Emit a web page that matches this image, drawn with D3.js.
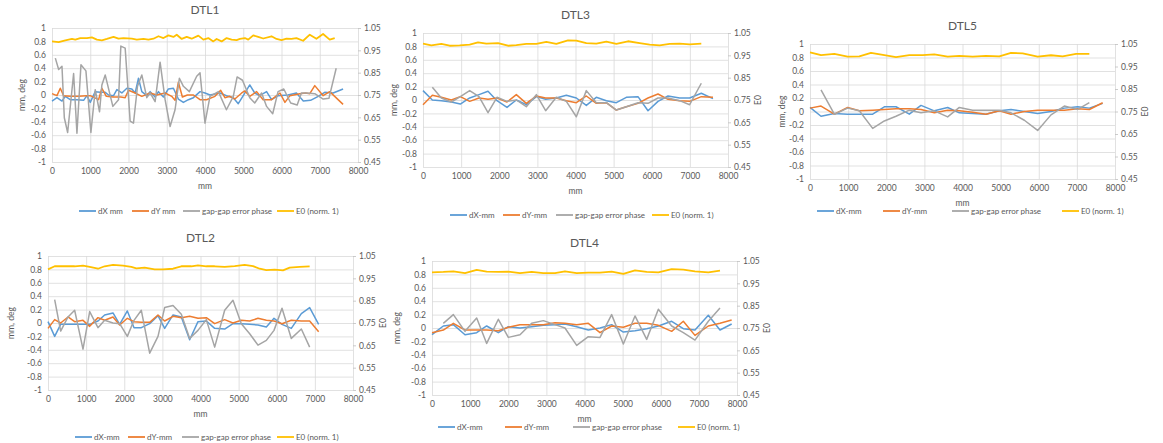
<!DOCTYPE html>
<html>
<head>
<meta charset="utf-8">
<script src="https://cdn.jsdelivr.net/npm/d3@7"></script>
<style>
  body { margin: 0; background: #fff; }
  svg text { font-family: Lato, "Liberation Sans", sans-serif; fill: #595959; }
</style>
</head>
<body>
<svg width="1163" height="443"></svg>
<script>
// values: [position mm, value]
const dtl1_dx = [[0,-0.09],[130,-0.04],[261,-0.09],[348,-0.02],[478,-0.07],[650,-0.07],[826,-0.08],[913,-0.01],[1000,-0.11],[1130,0.05],[1261,0.04],[1391,0.04],[1478,0],[1609,-0.01],[1696,0.08],[1826,0.03],[1957,0.1],[2087,0.09],[2174,0.03],[2261,0.25],[2348,0.05],[2478,-0.01],[2565,0.05],[2696,-0.03],[2783,0.05],[2913,-0.03],[3043,0.09],[3174,0.1],[3304,-0.06],[3435,-0.11],[3565,-0.07],[3696,-0.04],[3870,0.05],[4000,0.03],[4130,0],[4390,0.03],[4560,-0.01],[4740,-0.04],[4870,-0.13],[5000,-0.01],[5170,0.15],[5300,0.03],[5430,-0.01],[5610,0.05],[5740,-0.07],[5910,-0.01],[6170,0],[6390,0.03],[6570,-0.09],[6760,-0.08],[6960,-0.02],[7130,0.04],[7350,0.03],[7610,0.09]];
const dtl1_dy = [[0,0.02],[130,-0.01],[217,0.1],[304,-0.01],[478,-0.02],[700,-0.02],[900,-0.01],[1000,-0.01],[1217,-0.07],[1304,0.1],[1420,-0.02],[1600,-0.03],[1800,-0.03],[1913,-0.04],[2000,0.07],[2174,0.03],[2348,-0.02],[2565,0.03],[2739,0],[2957,0.03],[3130,-0.02],[3217,-0.08],[3304,0.19],[3409,-0.03],[3539,0],[3700,0],[3870,-0.07],[4040,-0.07],[4260,-0.02],[4410,0.07],[4520,-0.04],[4650,-0.02],[4780,-0.06],[4960,0.03],[5040,0.06],[5170,-0.02],[5350,0.05],[5520,-0.07],[5740,-0.07],[5960,0.03],[6090,-0.11],[6220,-0.01],[6480,0.02],[6630,0.03],[6740,0.02],[6870,0.14],[7090,-0.01],[7260,0.05],[7610,-0.14]];
const dtl1_gap = [[87,0.55],[174,0.38],[261,0.43],[322,-0.34],[409,-0.56],[565,0.32],[652,-0.57],[757,0.45],[887,0.36],[1017,-0.56],[1130,0.08],[1243,-0.25],[1304,0.15],[1391,0.3],[1591,-0.17],[1739,-0.07],[1800,0.73],[1913,0.7],[2043,-0.39],[2130,-0.42],[2235,0.13],[2348,0.3],[2478,-0.04],[2565,0.03],[2696,-0.1],[2826,0.49],[2957,-0.07],[3087,-0.47],[3217,-0.22],[3330,0.25],[3435,0.13],[3591,0.05],[3783,0.28],[3870,0.33],[4000,-0.42],[4130,-0.02],[4350,0.05],[4560,-0.22],[4740,-0.02],[4840,0.27],[4980,0.22],[5170,-0.04],[5300,-0.12],[5480,0.03],[5610,-0.17],[5770,-0.28],[5910,0.05],[6060,0.09],[6240,-0.12],[6410,-0.15],[6520,0.03],[6650,0.03],[6870,0.02],[7090,-0.06],[7240,-0.05],[7430,0.4]];
const dtl1_e0 = [[0,0.990],[174,0.987],[348,0.995],[522,1.001],[609,0.998],[739,1.005],[913,1.005],[1043,1.008],[1174,0.998],[1304,0.995],[1435,1.001],[1609,1.010],[1739,1.002],[1870,1.005],[2087,1.002],[2217,0.998],[2391,1.001],[2522,0.998],[2652,1.002],[2783,1.013],[2913,1.005],[3043,1.017],[3174,1.010],[3261,1.020],[3391,1.001],[3522,1.010],[3652,1.002],[3826,1.016],[3957,0.998],[4087,1.005],[4217,0.990],[4304,1.001],[4435,0.990],[4565,1.005],[4696,0.998],[4826,0.996],[4913,1.001],[5043,1.005],[5130,0.998],[5261,1.017],[5391,1.010],[5522,1.003],[5739,1.013],[5870,1.001],[6000,0.996],[6130,1.002],[6261,1.001],[6391,1.005],[6565,0.993],[6739,1.020],[6913,1.002],[7087,1.023],[7261,0.998],[7391,1.005]];

const dtl3_dx = [[0,0.14],[245,0],[481,-0.01],[743,-0.03],[979,-0.06],[1224,0.03],[1469,0.08],[1705,0.13],[1941,-0.01],[2203,-0.11],[2448,0],[2710,-0.07],[2973,0.05],[3217,0.01],[3497,0.03],[3760,0.07],[4022,0.03],[4284,-0.08],[4546,0.04],[4809,-0.01],[5071,-0.04],[5333,0.04],[5639,0.05],[5902,-0.16],[6164,-0.02],[6426,0.06],[6732,0.03],[6994,0.03],[7300,0.1],[7606,0.02]];
const dtl3_dy = [[0,-0.07],[245,0.07],[481,0.04],[743,0],[979,0.05],[1224,-0.02],[1469,0.03],[1705,0.01],[1941,0.03],[2203,-0.03],[2448,0.08],[2710,-0.05],[2973,0.06],[3217,0.03],[3497,0.03],[3760,-0.01],[4022,-0.04],[4284,0.06],[4546,-0.05],[4809,-0.04],[5071,-0.15],[5333,-0.1],[5639,-0.05],[5902,0.03],[6164,0.09],[6426,0.01],[6732,-0.01],[6994,-0.02],[7300,0.05],[7606,0.04]];
const dtl3_gap = [[245,0.19],[481,0.03],[743,-0.03],[979,0.05],[1224,0.14],[1469,0.05],[1705,-0.19],[1941,0.04],[2203,-0.02],[2448,0],[2710,-0.1],[2973,0.08],[3217,-0.16],[3497,0.04],[3760,-0.02],[4022,-0.25],[4284,0.14],[4546,-0.04],[4809,-0.04],[5071,-0.15],[5333,-0.1],[5639,-0.04],[5902,-0.05],[6164,0.03],[6426,0.03],[6732,-0.01],[6994,-0.07],[7300,0.25]];
const dtl3_e0 = [[0,1.002],[219,0.995],[481,1.001],[699,0.993],[962,0.995],[1224,0.998],[1443,1.008],[1661,1.002],[1967,1.005],[2230,0.993],[2448,0.996],[2710,1.001],[2973,1.001],[3235,1.010],[3497,1.001],[3803,1.017],[4022,1.016],[4284,1.005],[4546,1.002],[4809,1.011],[5071,1.001],[5377,1.013],[5683,1.005],[5945,0.998],[6208,0.995],[6470,1.001],[6732,1.002],[6994,0.999],[7300,1.002]];

const dtl5_dx = [[0,0.06],[289,-0.07],[638,-0.03],[988,-0.04],[1294,-0.04],[1644,-0.04],[1950,0.07],[2256,0.07],[2605,-0.04],[2911,0.09],[3261,0.01],[3611,0.06],[3917,-0.02],[4267,-0.03],[4616,-0.04],[4966,0.01],[5272,0.03],[5622,0],[5971,-0.03],[6321,0],[6671,0.05],[7021,0.07],[7327,0.05],[7676,0.12]];
const dtl5_dy = [[0,0.05],[289,0.08],[638,-0.04],[988,0.06],[1294,0.01],[1644,0.02],[1950,0.03],[2256,0.04],[2605,0.04],[2911,0.03],[3261,-0.02],[3611,0.02],[3917,0.01],[4267,-0.01],[4616,-0.04],[4966,0.01],[5272,-0.04],[5622,0],[5971,0.02],[6321,0.02],[6671,0.02],[7021,0.04],[7327,0.03],[7676,0.13]];
const dtl5_gap = [[289,0.32],[638,-0.04],[988,0.05],[1294,0.01],[1644,-0.25],[1950,-0.14],[2256,-0.07],[2605,0.02],[2911,-0.02],[3261,0.01],[3611,-0.08],[3917,0.06],[4267,0.02],[4616,0.02],[4966,0.02],[5272,-0.02],[5622,-0.13],[5971,-0.28],[6321,-0.05],[6671,0.08],[7021,0.03],[7327,0.13]];
const dtl5_e0 = [[0,1.013],[289,1.001],[638,1.006],[988,0.994],[1294,0.995],[1600,1.011],[1950,1.001],[2256,0.992],[2605,1.001],[2955,1.001],[3261,1.004],[3611,0.994],[3917,0.997],[4267,0.994],[4616,0.997],[4966,0.995],[5272,1.011],[5578,1.008],[5971,0.994],[6321,1.0],[6627,0.995],[6977,1.006],[7327,1.006]];

const dtl2_dx = [[0,0.02],[175,-0.2],[332,-0.02],[525,-0.02],[699,-0.02],[918,-0.02],[1093,-0.02],[1311,0.03],[1486,0.12],[1705,0.15],[1880,-0.02],[2081,0.18],[2256,-0.07],[2448,-0.07],[2667,-0.01],[2885,0.11],[3060,-0.08],[3279,0.12],[3497,0.09],[3716,-0.25],[3934,0.02],[4153,0.03],[4372,-0.08],[4634,-0.09],[4852,-0.01],[5071,-0.01],[5290,-0.02],[5508,-0.03],[5727,-0.06],[5928,0.07],[6138,-0.02],[6382,-0.08],[6645,0.14],[6863,0.23],[7099,-0.02]];
const dtl2_dy = [[0,-0.08],[175,0.05],[332,0],[525,0.09],[699,0.02],[918,0.04],[1093,-0.05],[1311,0.08],[1486,0.04],[1705,0.09],[1880,-0.03],[2081,0.07],[2256,0.02],[2448,0.01],[2667,0.01],[2885,0.12],[3060,0.03],[3279,0.1],[3497,0.08],[3716,0.1],[3934,0.07],[4153,0.08],[4372,-0.01],[4634,0.05],[4852,0],[5071,0.04],[5290,0.03],[5508,0.07],[5727,0.04],[5928,0.03],[6138,-0.01],[6382,0.04],[6645,0.03],[6863,0.03],[7099,-0.13]];
const dtl2_gap = [[175,0.35],[332,-0.12],[525,0.09],[699,0.19],[918,-0.39],[1093,0.17],[1311,-0.07],[1486,0.04],[1705,0],[1880,-0.01],[2081,-0.2],[2256,0.04],[2448,0.19],[2667,-0.45],[2885,-0.2],[3060,0.23],[3279,0.26],[3497,0.13],[3716,-0.23],[3934,-0.11],[4153,0.05],[4372,-0.36],[4634,0.19],[4852,0.34],[5071,-0.01],[5290,-0.16],[5508,-0.33],[5727,-0.26],[5928,-0.11],[6138,0.22],[6382,-0.23],[6645,-0.09],[6863,-0.36]];
const dtl2_e0 = [[0,0.990],[175,1.004],[437,1.004],[699,1.004],[918,1.007],[1093,1.001],[1311,0.993],[1486,1.004],[1705,1.010],[1967,1.007],[2186,1.001],[2317,0.995],[2535,0.998],[2798,0.990],[3016,0.990],[3279,0.993],[3497,1.004],[3760,1.004],[3934,1.008],[4153,1.004],[4372,1.004],[4634,1.001],[4896,1.005],[5158,1.010],[5377,1.005],[5552,0.993],[5727,0.987],[5945,0.989],[6164,0.986],[6339,0.998],[6601,1.001],[6863,1.004]];

const dtl4_dx = [[0,-0.1],[297,0.03],[560,0.05],[866,-0.1],[1172,-0.07],[1434,0.03],[1740,-0.07],[2002,0.02],[2308,0],[2614,0.02],[2920,0.04],[3226,0.05],[3488,0.06],[3795,0.02],[4100,-0.03],[4407,0],[4712,0.05],[5019,-0.06],[5325,-0.04],[5631,-0.01],[5937,0.03],[6286,0.1],[6592,-0.01],[6898,-0.03],[7248,0.19],[7554,-0.03],[7860,0.06]];
const dtl4_dy = [[0,-0.07],[297,-0.03],[560,0.07],[866,-0.03],[1172,-0.03],[1434,-0.03],[1740,-0.04],[2002,0.01],[2308,0.05],[2614,0.05],[2920,0.05],[3226,0.08],[3488,0.07],[3795,0.05],[4100,0.07],[4407,-0.07],[4712,0.03],[5019,0.01],[5325,0.07],[5631,0.07],[5937,0.04],[6286,-0.05],[6592,0.1],[6898,-0.11],[7248,0.03],[7554,0.07],[7860,0.12]];
const dtl4_gap = [[297,0.07],[560,0.2],[866,-0.05],[1172,0.15],[1434,-0.23],[1740,0.13],[2002,-0.14],[2308,-0.1],[2614,0.07],[2920,0.11],[3226,0.05],[3488,0],[3795,-0.26],[4100,-0.13],[4407,-0.14],[4712,0.2],[5019,-0.24],[5325,0.18],[5631,-0.17],[5937,0.28],[6286,0.03],[6592,-0.07],[6898,-0.18],[7248,0.1],[7554,0.3]];
const dtl4_e0 = [[0,0.999],[297,1.001],[560,1.004],[866,0.996],[1172,1.010],[1434,1.002],[1740,1.001],[2002,1.002],[2308,0.996],[2614,1.001],[2920,0.996],[3226,0.996],[3488,1.004],[3795,0.996],[4100,0.998],[4407,0.998],[4712,1.002],[5019,0.992],[5325,1.008],[5631,1.001],[5937,0.999],[6286,1.014],[6592,1.011],[6898,1.004],[7248,0.999],[7554,1.007]];

const leftTicks = [1, 0.8, 0.6, 0.4, 0.2, 0, -0.2, -0.4, -0.6, -0.8, -1];
const rightTicks = [1.05, 0.95, 0.85, 0.75, 0.65, 0.55, 0.45];
const xTicks = [0, 1000, 2000, 3000, 4000, 5000, 6000, 7000, 8000];

const colors = { dx: "#5b9bd5", dy: "#ed7d31", gap: "#a5a5a5", e0: "#ffc000" };

// where each chart sits on the page
const charts = [
  { title: "DTL1", dx: dtl1_dx, dy: dtl1_dy, gap: dtl1_gap, e0: dtl1_e0,
    names: ["dX mm", "dY mm", "gap-gap error phase", "E0 (norm. 1)"],
    x: 52, y: 28, w: 306, h: 134, yLabX: -27, e0Label: false,
    legendY: 211, legendX: [79, 132, 183, 277] },
  { title: "DTL3", dx: dtl3_dx, dy: dtl3_dy, gap: dtl3_gap, e0: dtl3_e0,
    names: ["dX-mm", "dY-mm", "gap-gap error phase", "E0 (norm. 1)"],
    x: 423, y: 33, w: 305, h: 134, yLabX: -26, e0Label: true,
    legendY: 215, legendX: [450, 503, 556, 652] },
  { title: "DTL5", dx: dtl5_dx, dy: dtl5_dy, gap: dtl5_gap, e0: dtl5_e0,
    names: ["dX-mm", "dY-mm", "gap-gap error phase", "E0 (norm. 1)"],
    x: 810, y: 44, w: 305, h: 135, yLabX: -25, e0Label: true,
    legendY: 211, legendX: [817, 883, 952, 1062] },
  { title: "DTL2", dx: dtl2_dx, dy: dtl2_dy, gap: dtl2_gap, e0: dtl2_e0,
    names: ["dX-mm", "dY-mm", "gap-gap error phase", "E0 (norm. 1)"],
    x: 48, y: 256, w: 305, h: 134, yLabX: -34, e0Label: true,
    legendY: 437, legendX: [75, 128, 182, 277] },
  { title: "DTL4", dx: dtl4_dx, dy: dtl4_dy, gap: dtl4_gap, e0: dtl4_e0,
    names: ["dX-mm", "dY-mm", "gap-gap error phase", "E0 (norm. 1)"],
    x: 432, y: 261, w: 305, h: 134, yLabX: -32, e0Label: true,
    legendY: 427, legendX: [438, 505, 573, 678] }
];

const svg = d3.select("svg");

function drawChart(c) {
  const xScale = d3.scaleLinear().domain([0, 8000]).range([c.x, c.x + c.w]);
  const yLeft = d3.scaleLinear().domain([-1, 1]).range([c.y + c.h, c.y]);
  const yRight = d3.scaleLinear().domain([0.45, 1.05]).range([c.y + c.h, c.y]);

  const g = svg.append("g");

  // gridlines + labels from the axes
  const xAxis = d3.axisBottom(xScale).tickValues(xTicks).tickSize(-c.h).tickPadding(6).tickFormat(d3.format("d"));
  g.append("g").attr("transform", `translate(0, ${c.y + c.h})`).call(xAxis);

  const yAxis = d3.axisLeft(yLeft).tickValues(leftTicks).tickSize(-c.w).tickPadding(6)
    .tickFormat(d => String(Math.round(d * 10) / 10));
  g.append("g").attr("transform", `translate(${c.x}, 0)`).call(yAxis);

  const rAxis = d3.axisRight(yRight).tickValues(rightTicks).tickSize(3).tickPadding(3)
    .tickFormat(d3.format(".2f"));
  g.append("g").attr("class", "raxis").attr("transform", `translate(${c.x + c.w}, 0)`).call(rAxis);

  g.selectAll(".domain").remove();
  g.selectAll(".tick line").attr("stroke", "#d9d9d9").attr("stroke-width", 0.8);
  g.selectAll(".raxis .tick line").attr("stroke", "#bfbfbf");
  g.selectAll(".tick text").style("font-size", "8.5px").attr("fill", "#595959");

  const line = d3.line().x(d => xScale(d[0])).y(d => yLeft(d[1]));
  const lineR = d3.line().x(d => xScale(d[0])).y(d => yRight(d[1]));

  g.append("path").datum(c.dx).attr("d", line)
    .attr("fill", "none").attr("stroke", colors.dx).attr("stroke-width", 1.5).attr("stroke-linejoin", "round");
  g.append("path").datum(c.dy).attr("d", line)
    .attr("fill", "none").attr("stroke", colors.dy).attr("stroke-width", 1.5).attr("stroke-linejoin", "round");
  g.append("path").datum(c.gap).attr("d", line)
    .attr("fill", "none").attr("stroke", colors.gap).attr("stroke-width", 1.5).attr("stroke-linejoin", "round");
  g.append("path").datum(c.e0).attr("d", lineR)
    .attr("fill", "none").attr("stroke", colors.e0).attr("stroke-width", 1.8).attr("stroke-linejoin", "round");

  // titles
  g.append("text")
    .attr("x", c.x + c.w / 2).attr("y", c.y - 14)
    .attr("text-anchor", "middle").style("font-size", "12px")
    .text(c.title);

  g.append("text")
    .attr("x", c.x + c.w / 2).attr("y", c.y + c.h + 27)
    .attr("text-anchor", "middle").style("font-size", "8.5px")
    .text("mm");

  g.append("text")
    .attr("transform", `translate(${c.x + c.yLabX}, ${c.y + c.h / 2}) rotate(-90)`)
    .attr("text-anchor", "middle").style("font-size", "8.5px")
    .text("mm, deg");

  if (c.e0Label) {
    g.append("text")
      .attr("transform", `translate(${c.x + c.w + 33}, ${c.y + c.h / 2}) rotate(-90)`)
      .attr("text-anchor", "middle").style("font-size", "8.5px")
      .text("E0");
  }

  // legend
  const keys = ["dx", "dy", "gap", "e0"];
  keys.forEach((k, i) => {
    const lx = c.legendX[i];
    g.append("line")
      .attr("x1", lx).attr("x2", lx + 17)
      .attr("y1", c.legendY).attr("y2", c.legendY)
      .attr("stroke", colors[k]).attr("stroke-width", 1.8);
    g.append("text")
      .attr("x", lx + 19).attr("y", c.legendY + 2.8)
      .style("font-size", "8px")
      .text(c.names[i]);
  });
}

charts.forEach(drawChart);
</script>
</body>
</html>
